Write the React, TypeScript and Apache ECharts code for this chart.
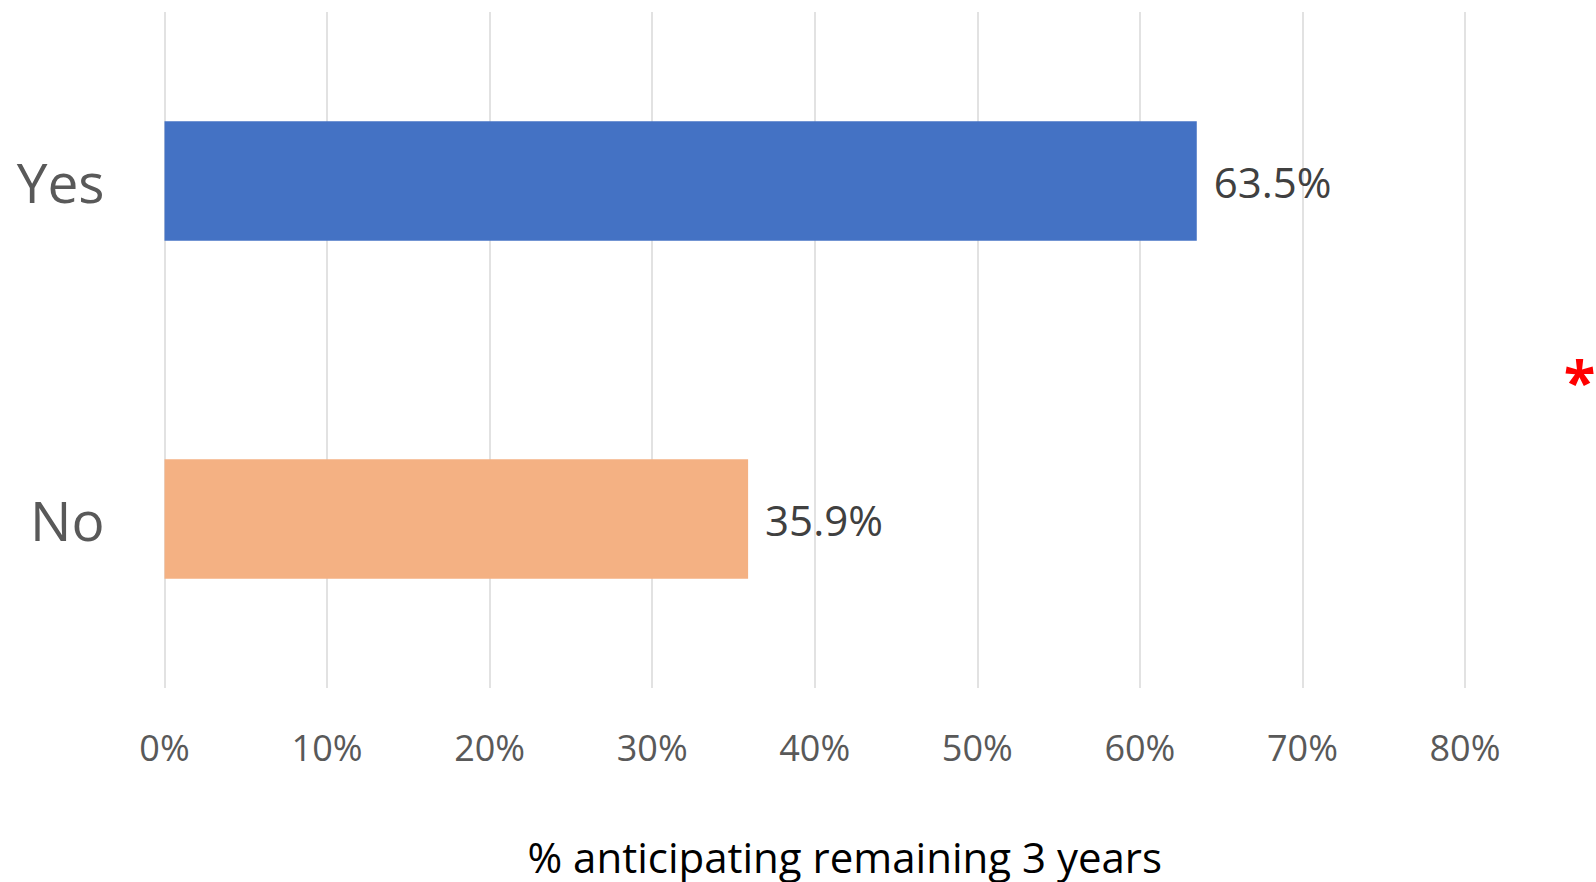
import React, { useEffect, useRef } from "react";
import * as echarts from "echarts";

// Survey responses: share anticipating remaining 3 years
const categories = ["Yes", "No"];
const values = [63.5, 35.9];
const barColors = ["#4472C4", "#F4B183"];
const axisMax = 80;
const axisStep = 10;
const axisTitle = "% anticipating remaining 3 years";
const marker = "*";

const FONT = "'Open Sans', 'Noto Sans', sans-serif";

export default function App() {
  const ref = useRef<HTMLDivElement>(null);

  useEffect(() => {
    if (!ref.current) return;
    const chart = echarts.init(ref.current, undefined, { renderer: "svg" });
    chart.setOption({
      animation: false,
      backgroundColor: "#ffffff",
      grid: { left: 164.5, right: 131, top: 12, bottom: 188, containLabel: false },
      xAxis: {
        type: "value",
        min: 0,
        max: axisMax,
        interval: axisStep,
        axisLine: { show: false },
        axisTick: { show: false },
        splitLine: { show: true, lineStyle: { color: "#d9d9d9", width: 1.5 } },
        axisLabel: {
          formatter: (v: number) => `${v}%`,
          color: "#595959",
          fontFamily: FONT,
          fontSize: 36,
          lineHeight: 36,
          margin: 41,
        },
        name: axisTitle,
        nameLocation: "middle",
        nameGap: 147,
        nameTextStyle: {
          color: "#000000",
          fontFamily: FONT,
          fontSize: 42,
          lineHeight: 42,
          padding: [0, 0, 0, 60],
        },
      },
      yAxis: {
        type: "category",
        data: categories,
        inverse: true,
        axisLine: { show: false },
        axisTick: { show: false },
        splitLine: { show: false },
        axisLabel: {
          color: "#595959",
          fontFamily: FONT,
          fontSize: 55,
          margin: 60,
        },
      },
      series: [
        {
          type: "bar",
          barWidth: "35.4%",
          data: values.map((v, i) => ({ value: v, itemStyle: { color: barColors[i] } })),
          label: {
            show: true,
            position: "right",
            distance: 17,
            formatter: (p: any) => `${Number(p.value).toFixed(1)}%`,
            color: "#404040",
            fontFamily: FONT,
            fontSize: 42,
          },
        },
      ],
      graphic: [
        {
          type: "text",
          x: 1579.5,
          y: 380,
          style: {
            text: marker,
            fill: "#ff0000",
            fontFamily: FONT,
            fontWeight: "bold",
            fontSize: 58,
            align: "center",
            verticalAlign: "middle",
          },
        },
      ],
    });
    return () => chart.dispose();
  }, []);

  return (
    <div
      ref={ref}
      style={{ position: "fixed", left: 0, top: 0, width: 1596, height: 882 }}
    />
  );
}
